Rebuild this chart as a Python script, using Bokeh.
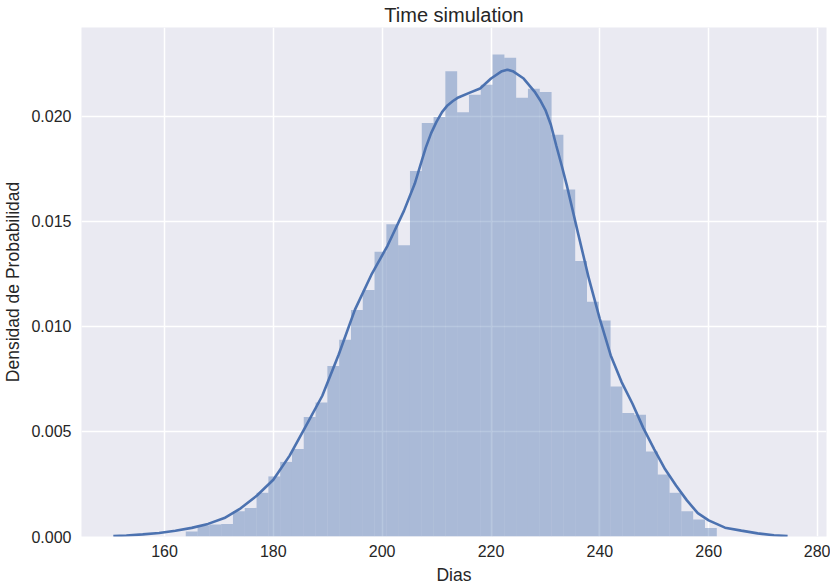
from bokeh.plotting import figure
from bokeh.models import FixedTicker, NumeralTickFormatter, Range1d, ColumnDataSource
from bokeh.embed import file_html
from bokeh.resources import INLINE

# Histogram bin edges (Dias) and densities
bin_edges = [163.91, 166.08, 168.25, 170.42, 172.58, 174.75, 176.92, 179.09, 181.26, 183.43,
             185.59, 187.76, 189.93, 192.10, 194.27, 196.44, 198.60, 200.77, 202.94, 205.11,
             207.28, 209.45, 211.61, 213.78, 215.95, 218.12, 220.29, 222.46, 224.62, 226.79,
             228.96, 231.13, 233.30, 235.47, 237.64, 239.80, 241.97, 244.14, 246.31, 248.48,
             250.65, 252.81, 254.98, 257.15, 259.32, 261.49]
bin_density = [0.00024, 0.00052, 0.00057, 0.00060, 0.00120, 0.00136, 0.00208, 0.00286, 0.00355, 0.00417,
               0.00569, 0.00638, 0.00812, 0.00936, 0.01078, 0.01173, 0.01355, 0.01487, 0.01387, 0.01740,
               0.01968, 0.01997, 0.02215, 0.02020, 0.02103, 0.02150, 0.02295, 0.02279, 0.02089, 0.02132,
               0.02116, 0.01913, 0.01652, 0.01311, 0.01118, 0.01028, 0.00714, 0.00588, 0.00580, 0.00405,
               0.00295, 0.00208, 0.00120, 0.00081, 0.00040]

# KDE curve
kde_x = [150.6, 153, 156, 159, 162, 165, 168, 171, 174, 177, 180, 183, 186, 189, 192, 195, 198,
         201, 204, 206, 207, 208, 209, 210, 211, 212, 213, 214, 216, 218, 220, 222, 223, 224, 226,
         228, 229, 230, 231, 232, 233, 234, 236, 238, 240, 242, 244, 246, 248, 250, 252, 254, 256,
         258, 260, 263, 266, 269, 272, 274.5]
kde_y = [0.00002, 0.00005, 0.00010, 0.00017, 0.00027, 0.00041, 0.00060, 0.00088, 0.00134, 0.00195,
         0.00270, 0.00385, 0.00527, 0.00670, 0.00865, 0.01080, 0.01245, 0.01385, 0.01550, 0.01680,
         0.01765, 0.01850, 0.01920, 0.01975, 0.02020, 0.02052, 0.02073, 0.02090, 0.02112, 0.02133,
         0.02180, 0.02215, 0.02222, 0.02215, 0.02180, 0.02118, 0.02078, 0.02030, 0.01960, 0.01860,
         0.01765, 0.01664, 0.01443, 0.01226, 0.01035, 0.00862, 0.00735, 0.00632, 0.00516, 0.00415,
         0.00320, 0.00243, 0.00172, 0.00111, 0.00077, 0.00042, 0.00028, 0.00015, 0.00006, 0.00002]

x_ticks = [160, 180, 200, 220, 240, 260, 280]
y_ticks = [0.000, 0.005, 0.010, 0.015, 0.020]

title = "Time simulation"
x_label = "Dias"
y_label = "Densidad de Probabilidad"

FONT = "Liberation Sans"
TEXT = "#262626"
BLUE = "#4C72B0"

p = figure(width=830, height=587, output_backend="svg", toolbar_location=None,
           x_range=Range1d(144.75, 281.65), y_range=Range1d(0, 0.02423),
           min_border_left=81, min_border_right=4, min_border_top=27, min_border_bottom=50,
           background_fill_color="#EAEAF2", border_fill_color="white", outline_line_color=None)

p.title.text = title
p.title.align = "center"
p.title.vertical_align = "middle"
p.title.text_font = FONT
p.title.text_font_size = "20px"
p.title.text_font_style = "normal"
p.title.text_color = TEXT
p.title.text_line_height = 0.8
p.title.offset = 0
p.title.standoff = 2

src = ColumnDataSource(dict(left=bin_edges[:-1], right=bin_edges[1:], top=bin_density,
                            bottom=[0] * len(bin_density)))
p.quad(left="left", right="right", top="top", bottom="bottom", source=src,
       fill_color=BLUE, fill_alpha=0.4, line_color=None)
p.line(kde_x, kde_y, line_color=BLUE, line_width=2.6)

p.xaxis.ticker = FixedTicker(ticks=x_ticks)
p.yaxis.ticker = FixedTicker(ticks=y_ticks)
p.yaxis.formatter = NumeralTickFormatter(format="0.000")
p.xaxis.axis_label = x_label
p.yaxis.axis_label = y_label

for ax in (p.xaxis, p.yaxis):
    ax.axis_line_color = None
    ax.major_tick_line_color = None
    ax.minor_tick_line_color = None
    ax.major_tick_out = 0
    ax.major_tick_in = 0
    ax.minor_tick_out = 0
    ax.minor_tick_in = 0
    ax.major_label_text_font = FONT
    ax.major_label_text_font_size = "16px"
    ax.major_label_text_color = TEXT
    ax.axis_label_text_font = FONT
    ax.axis_label_text_font_size = "17.5px"
    ax.axis_label_text_font_style = "normal"
    ax.axis_label_text_color = TEXT

p.xaxis.major_label_standoff = 8
p.xaxis.axis_label_standoff = 5
p.yaxis.major_label_standoff = 10
p.yaxis.axis_label_standoff = 5

p.grid.grid_line_color = "white"
p.grid.grid_line_width = 1.5
p.xgrid.ticker = FixedTicker(ticks=x_ticks)
p.ygrid.ticker = FixedTicker(ticks=y_ticks)

open("out.html", "w").write(file_html(p, INLINE))
